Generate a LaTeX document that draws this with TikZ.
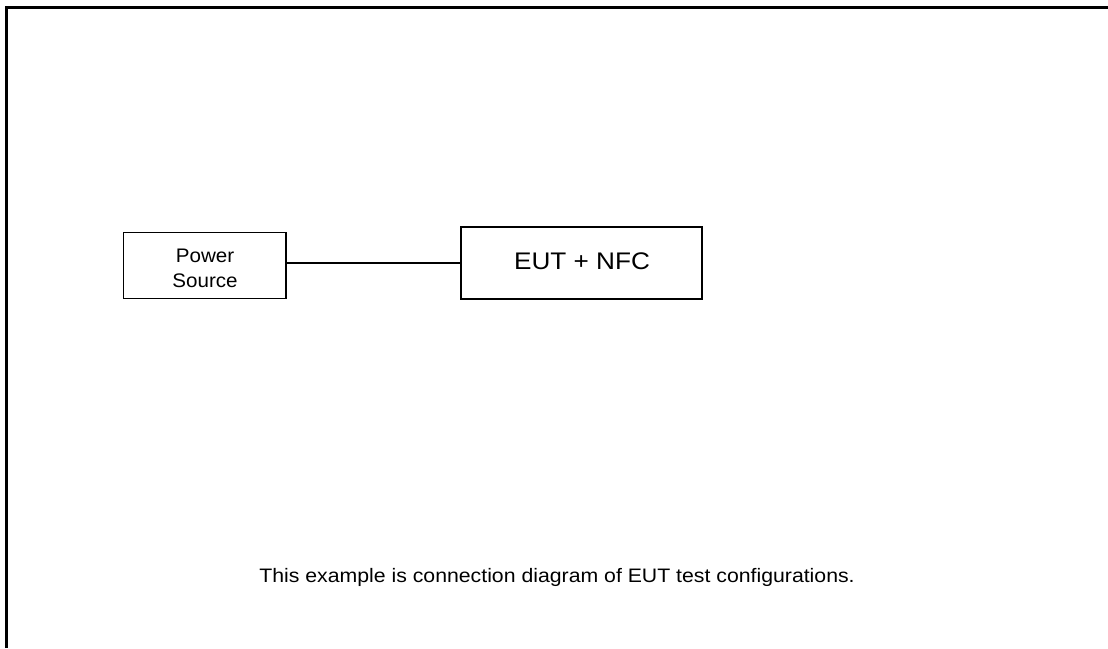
\documentclass[tikz,border=0pt]{standalone}
\usepackage{fontspec}
\setmainfont{Liberation Sans}
\usepackage{graphicx}
\begin{document}
\begin{tikzpicture}[x=1pt,y=-1pt,
  box/.style={draw=black,line width=1.4pt,inner sep=0pt},
  txt/.style={inner sep=0pt,align=center},
  wire/.style={draw=black,line width=1.4pt}]
\useasboundingbox (0,0) rectangle (1108,648);
\draw[line width=3pt] (6.5,648) -- (6.5,7.5) -- (1108,7.5);
\node[box,minimum width=162.5pt,minimum height=66pt] (pw) at (204.75,265.5) {};
\node[txt,font=\fontsize{19.6}{24.4}\selectfont] (pwt) at (205,268.5) {\scalebox{1.05}[1]{Power}\\\scalebox{1.05}[1]{Source}};
\node[box,minimum width=241pt,minimum height=72pt] (eut) at (581.5,263) {};
\node[txt,font=\fontsize{24}{28}\selectfont] (eutt) at (582,261.7) {\scalebox{1.09}[1]{EUT + NFC}};
\draw[wire] (eut.west) -- (eut.west -| pw.east);
\node[txt,font=\fontsize{19.5}{22}\selectfont] (cap) at (557,577) {\scalebox{1.09}[1]{This example is connection diagram of EUT test configurations.}};
\end{tikzpicture}
\end{document}
